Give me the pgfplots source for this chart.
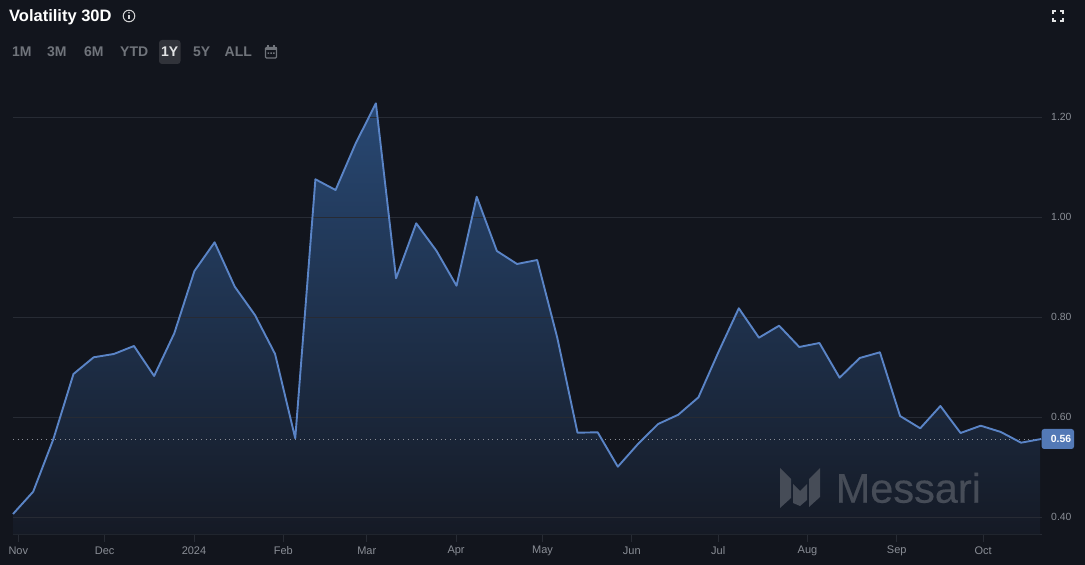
\documentclass[border=0pt]{standalone}
\usepackage{pgfplots}
\usepackage{fontspec}
\setmainfont{Liberation Sans}
\newfontfamily\wmfont[FakeBold=0.35]{Liberation Sans}
\pgfplotsset{compat=1.18}
\definecolor{bgc}{HTML}{12151D}
\definecolor{gridc}{HTML}{272B34}
\definecolor{linec}{HTML}{5A84C6}
\definecolor{areatop}{HTML}{284873}
\definecolor{areamid}{HTML}{1C2E49}
\definecolor{areabot}{HTML}{151A25}
\definecolor{tickc}{HTML}{8A8E96}
\definecolor{btnc}{HTML}{70747B}
\definecolor{wmc}{HTML}{464C57}
\pgfplotstableread{
x v
-1.84 .406
5.16 .4506
12.16 .5554
19.16 .686
26.16 .7194
33.16 .726
40.16 .742
47.16 .682
54.16 .7674
61.16 .892
68.16 .9494
75.16 .8606
82.16 .804
89.16 .726
96.16 .5574
103.16 1.0754
110.16 1.054
117.16 1.1474
124.16 1.2274
131.16 .8774
138.16 .9874
145.16 .9326
152.16 .8626
159.16 1.0406
166.16 .932
173.16 .906
180.16 .914
187.16 .758
194.16 .5686
201.16 .5694
208.16 .5006
215.16 .546
222.16 .586
229.16 .6046
236.16 .6394
243.16 .7306
250.16 .8174
257.16 .7586
264.16 .7826
271.16 .74
278.16 .748
285.16 .6786
292.16 .718
299.16 .7294
306.16 .602
313.16 .5774
320.16 .622
327.16 .568
334.16 .5826
341.16 .57
348.16 .5486
354.76 .556
}\areadata
\pgfplotstableread{
x v
-1.84 .406
5.16 .4506
12.16 .5554
19.16 .686
26.16 .7194
33.16 .726
40.16 .742
47.16 .682
54.16 .7674
61.16 .892
68.16 .9494
75.16 .8606
82.16 .804
89.16 .726
96.16 .5574
103.16 1.0754
110.16 1.054
117.16 1.1474
124.16 1.2274
131.16 .8774
138.16 .9874
145.16 .9326
152.16 .8626
159.16 1.0406
166.16 .932
173.16 .906
180.16 .914
187.16 .758
194.16 .5686
201.16 .5694
208.16 .5006
215.16 .546
222.16 .586
229.16 .6046
236.16 .6394
243.16 .7306
250.16 .8174
257.16 .7586
264.16 .7826
271.16 .74
278.16 .748
285.16 .6786
292.16 .718
299.16 .7294
306.16 .602
313.16 .5774
320.16 .622
327.16 .568
334.16 .5826
341.16 .57
348.16 .5486
355.16 .556
}\linedata
\begin{document}
\begin{tikzpicture}
\fill[bgc] (0,0) rectangle (1085pt,565pt);
\begin{axis}[
  at={(13pt,30.5pt)}, anchor=south west,
  scale only axis, width=1029pt, height=464.5pt,
  xmin=-1.84, xmax=355.45, ymin=0.365, ymax=1.294,
  axis x line=bottom, axis y line=right,
  axis line style={-},
  x axis line style={gridc, line width=0.8pt},
  y axis line style={draw=none},
  xtick={0,30,61,92,121,152,182,213,243,274,305,335},
  xticklabels={Nov,Dec,2024,Feb,Mar,Apr,May,Jun,Jul,Aug,Sep,Oct},
  ytick={0.4,0.6,0.8,1.0,1.2},
  /pgf/number format/fixed,
  /pgf/number format/fixed zerofill,
  /pgf/number format/precision=2,
  /pgf/number format/assume math mode=true,
  x tick label style={font=\fontsize{11}{13}\selectfont, text=tickc, inner sep=0pt, anchor=center, yshift=-8pt},
  y tick label style={font=\fontsize{10.4}{13}\selectfont, text=tickc, anchor=west, inner sep=0pt, xshift=1pt},
  x tick style={gridc, line width=0.8pt},
  y tick style={draw=none},
  tick align=outside, major tick length=8pt,
  clip=false,
]
\addplot[draw=none, top color=areatop, middle color=areamid, bottom color=areabot] table[x=x,y=v] {\areadata} \closedcycle;
\pgfplotsinvokeforeach{0.4,0.6,0.8,1.0,1.2}{
  \addplot[gridc, line width=0.8pt, forget plot] coordinates {(-1.84,#1)(355.45,#1)};
}
\addplot[tickc, line width=0.8pt, dash pattern=on 1pt off 3.7pt] coordinates {(-1.84,0.5554)(355.45,0.5554)};
\addplot[linec, line width=1.9pt, line join=round] table[x=x,y=v] {\linedata};
\end{axis}
\begin{scope}[shift={(0,565pt)},x=1pt,y=-1pt]
  % badge
  \fill[rounded corners=2.5pt, fill=linec!92!black] (1041.7,429) rectangle (1074,449);
  \node[text=white, font=\fontsize{10.4}{13}\selectfont\bfseries, inner sep=0] at (1061,439) {0.56};
  % title row
  \node[anchor=base west, inner sep=0, text=white, font=\fontsize{16.5}{18}\selectfont\bfseries] at (9,22) {Volatility 30D};
  \draw[white!80!bgc, line width=1pt] (129,16) circle (5.8);
  \fill[white!80!bgc] (128.4,15) rectangle (129.6,19.5);
  \fill[white!80!bgc] (129,12.8) circle (0.8);
  % range buttons
  \fill[rounded corners=3pt, fill=white!13!bgc] (159,40) rectangle (180.5,64);
  \foreach \t/\xx in {1M/12,3M/47,6M/84,YTD/120,5Y/193,ALL/224.5}
    \node[anchor=base west, inner sep=0, text=btnc, font=\fontsize{\ifx\t\allname 13\else 14\fi}{16}\selectfont\bfseries] at (\xx,57) {\t};
  \node[anchor=base, inner sep=0, text=white!88!bgc, font=\fontsize{14}{16}\selectfont\bfseries] at (169.7,57) {1Y};
  % calendar icon
  \draw[btnc, line width=1.2pt, rounded corners=1pt] (265.5,47.5) rectangle (276.5,58);
  \fill[btnc] (265.5,47) rectangle (276.5,50.5);
  \draw[btnc, line width=1.1pt] (268,45.5)--(268,48) (274,45.5)--(274,48);
  \fill[btnc] (267.5,52.5) rectangle (269,54) (270.3,52.5) rectangle (271.8,54) (273,52.5) rectangle (274.5,54);
  % expand icon
  \draw[white!88!bgc, line width=1.8pt]
    (1053,14)--(1053,11)--(1056,11) (1060,11)--(1063,11)--(1063,14)
    (1063,18)--(1063,21)--(1060,21) (1056,21)--(1053,21)--(1053,18);
  % watermark
  \fill[wmc] (780,468)--(791,479)--(791,498)--(780,508)--cycle;
  \fill[wmc] (793,484)--(800,491)--(807,484)--(807,500)--(800,506)--(793,503)--cycle;
  \fill[wmc] (820,468)--(809,479)--(809,507)--(820,497)--cycle;
  \node[anchor=base west, inner sep=0, text=wmc, font=\fontsize{41.5}{44}\selectfont\wmfont] at (835.5,502.7) {Messari};
\end{scope}
\end{tikzpicture}
\end{document}
